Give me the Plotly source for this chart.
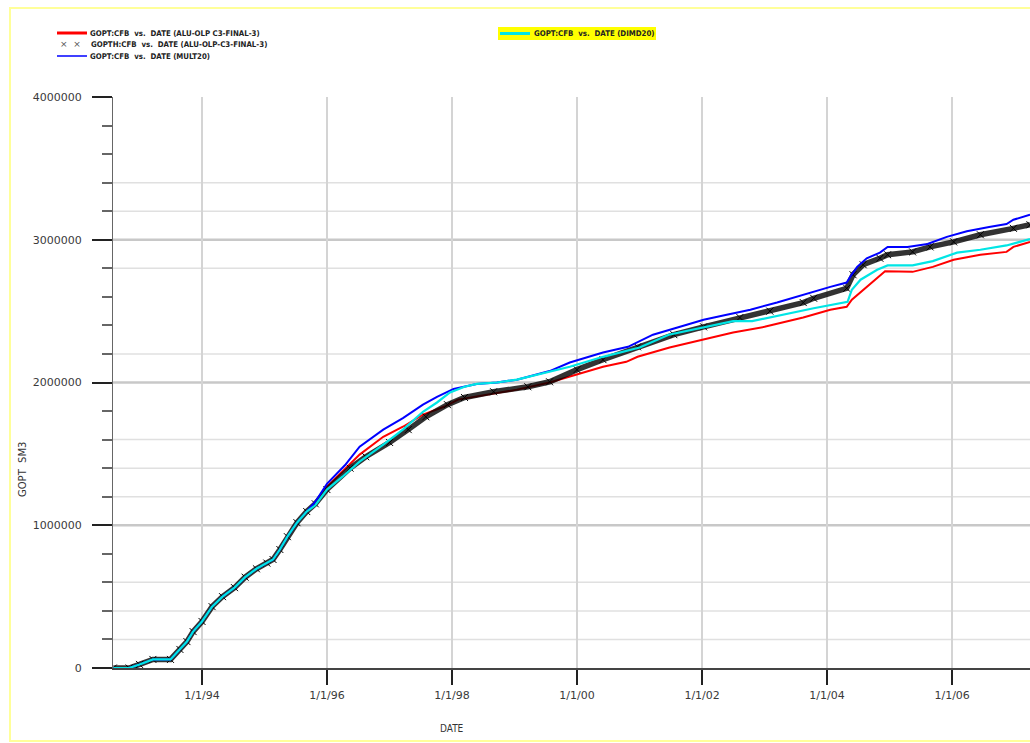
import plotly.graph_objects as go

# ---- cumulative gas production, field CFB (SM3) ----
# start-up period, identical for every case
EARLY_DATES = ["1992-08-01", "1992-11-01", "1993-01-01", "1993-03-20", "1993-07-01",
               "1993-08-25", "1993-10-05", "1993-11-10", "1994-01-01", "1994-03-01",
               "1994-05-01", "1994-07-10", "1994-09-10", "1994-11-15", "1995-01-15",
               "1995-02-20", "1995-04-01", "1995-05-15", "1995-07-10", "1995-09-05"]
EARLY_VALUES = [0, 0, 25000, 60000, 60000,
                130000, 185000, 255000, 326000, 430000,
                500000, 563000, 636000, 695000, 735000,
                760000, 830000, 920000, 1018000, 1096000]

RED_DATES = ["1995-10-25", "1996-01-01", "1996-04-01", "1996-07-10", "1996-11-25",
             "1997-03-20", "1997-07-15", "1997-11-15", "1998-02-05", "1998-07-15",
             "1999-01-15", "1999-07-25", "2000-01-01", "2000-06-01", "2000-10-15",
             "2000-12-20", "2001-06-25", "2002-01-01", "2002-07-01", "2003-01-01",
             "2003-08-15", "2004-01-20", "2004-04-25", "2004-05-25", "2004-07-30",
             "2004-12-05", "2005-05-15", "2005-09-10", "2006-01-10", "2006-06-15",
             "2006-11-15", "2006-12-25", "2007-04-01"]
RED_VALUES = [1158000, 1270000, 1375000, 1495000, 1620000,
              1690000, 1775000, 1830000, 1880000, 1915000,
              1950000, 2000000, 2055000, 2110000, 2145000,
              2180000, 2245000, 2300000, 2350000, 2390000,
              2455000, 2510000, 2530000, 2580000, 2650000,
              2780000, 2775000, 2810000, 2860000, 2895000,
              2915000, 2950000, 2985000]

HIST_DATES = ["1995-10-25", "1996-01-01", "1996-05-15", "1996-08-15", "1997-01-01",
              "1997-04-20", "1997-08-01", "1997-12-05", "1998-03-15", "1998-09-01",
              "1999-03-20", "1999-07-25", "2000-01-01", "2000-06-01", "2000-12-20",
              "2001-07-20", "2002-01-10", "2002-08-10", "2003-02-01", "2003-08-15",
              "2003-10-15", "2004-04-25", "2004-06-01", "2004-07-30", "2004-11-05",
              "2004-12-20", "2005-05-15", "2005-08-25", "2006-01-10", "2006-06-15",
              "2006-12-25", "2007-04-01"]
HIST_VALUES = [1150000, 1250000, 1400000, 1480000, 1580000,
               1670000, 1760000, 1845000, 1895000, 1935000,
               1970000, 2005000, 2090000, 2160000, 2250000,
               2335000, 2390000, 2455000, 2500000, 2560000,
               2590000, 2660000, 2755000, 2825000, 2870000,
               2895000, 2915000, 2950000, 2985000, 3035000,
               3080000, 3105000]

MULT_DATES = ["1995-10-25", "1996-01-01", "1996-04-15", "1996-07-10", "1996-11-25",
              "1997-03-20", "1997-07-15", "1997-10-05", "1998-01-10", "1998-05-25",
              "1998-09-20", "1999-01-15", "1999-07-25", "1999-11-20", "2000-06-01",
              "2000-10-25", "2001-03-20", "2001-08-25", "2002-01-10", "2002-05-25",
              "2002-10-10", "2003-03-15", "2003-08-15", "2004-01-20", "2004-04-25",
              "2004-05-15", "2004-06-25", "2004-08-20", "2004-11-05", "2004-12-20",
              "2005-04-15", "2005-08-10", "2005-12-01", "2006-03-28", "2006-08-05",
              "2006-11-15", "2006-12-25", "2007-04-01"]
MULT_VALUES = [1165000, 1290000, 1420000, 1550000, 1670000,
               1750000, 1845000, 1900000, 1955000, 1990000,
               2000000, 2020000, 2080000, 2140000, 2210000,
               2250000, 2335000, 2390000, 2440000, 2475000,
               2510000, 2560000, 2615000, 2670000, 2700000,
               2740000, 2810000, 2870000, 2910000, 2950000,
               2950000, 2970000, 3020000, 3060000, 3090000,
               3110000, 3140000, 3175000]

DIMD_DATES = ["1995-10-25", "1996-01-01", "1996-04-01", "1996-07-10", "1996-11-25",
              "1997-03-20", "1997-07-15", "1997-10-05", "1997-12-20", "1998-03-15",
              "1998-05-25", "1998-09-20", "1999-01-15", "1999-07-25", "1999-11-20",
              "2000-06-01", "2001-01-01", "2001-06-20", "2002-01-01", "2002-07-01",
              "2002-10-20", "2003-05-01", "2003-10-15", "2004-04-30", "2004-05-25",
              "2004-07-15", "2004-10-20", "2004-12-20", "2005-05-15", "2005-09-10",
              "2006-01-30", "2006-06-15", "2006-11-15", "2007-01-15", "2007-04-01"]
DIMD_VALUES = [1140000, 1250000, 1340000, 1445000, 1565000,
               1670000, 1795000, 1860000, 1930000, 1970000,
               1990000, 2000000, 2020000, 2075000, 2110000,
               2180000, 2245000, 2335000, 2385000, 2430000,
               2430000, 2480000, 2520000, 2565000, 2650000,
               2720000, 2790000, 2820000, 2820000, 2850000,
               2910000, 2930000, 2960000, 2980000, 3005000]

X_TICKS = ["1994-01-01", "1996-01-01", "1998-01-01", "2000-01-01",
           "2002-01-01", "2004-01-01", "2006-01-01"]
X_TICK_TEXT = ["1/1/94", "1/1/96", "1/1/98", "1/1/00", "1/1/02", "1/1/04", "1/1/06"]
Y_TICKS = [0, 1000000, 2000000, 3000000, 4000000]
Y_TICK_TEXT = ["0", "1000000", "2000000", "3000000", "4000000"]
MAJOR_GRID = [1000000, 2000000, 3000000]
MINOR_GRID = [200000, 400000, 600000, 1200000, 1400000, 1600000,
              2200000, 2800000, 3200000, 3400000]

LEGEND_LABELS = ["GOPT:CFB  vs.  DATE (ALU-OLP C3-FINAL-3)",
                 "GOPTH:CFB  vs.  DATE (ALU-OLP-C3-FINAL-3)",
                 "GOPT:CFB  vs.  DATE (MULT20)",
                 "GOPT:CFB  vs.  DATE (DIMD20)"]

# ---- page geometry ----
FIG_W, FIG_H = 1030, 743
M_L, M_R, M_T, M_B = 113, 0, 97, 75
PLOT_W = FIG_W - M_L - M_R
PLOT_H = FIG_H - M_T - M_B


def px(x):
    return (x - M_L) / PLOT_W


def py(y):
    return (FIG_H - M_B - y) / PLOT_H


def nb(s):
    return s.replace(" ", "\u00a0")


TICK_FONT = dict(family="DejaVu Sans, Liberation Sans, sans-serif", size=11, color="#3a3a3a")
LEG_FONT = dict(family="DejaVu Sans Condensed, Liberation Sans Narrow, DejaVu Sans, sans-serif",
                size=7.8, color="#222", weight="bold")

fig = go.Figure()
fig.add_trace(go.Scatter(x=EARLY_DATES + RED_DATES, y=EARLY_VALUES + RED_VALUES,
                         mode="lines", line=dict(color="#ff0000", width=2),
                         name=LEGEND_LABELS[0]))
fig.add_trace(go.Scatter(x=EARLY_DATES + HIST_DATES, y=EARLY_VALUES + HIST_VALUES,
                         mode="lines+markers",
                         line=dict(color="rgba(0,0,0,0.8)", width=5.5),
                         marker=dict(symbol="x-thin", size=7, line=dict(color="#000", width=1)),
                         name=LEGEND_LABELS[1]))
fig.add_trace(go.Scatter(x=EARLY_DATES + MULT_DATES, y=EARLY_VALUES + MULT_VALUES,
                         mode="lines", line=dict(color="#0000ff", width=2),
                         name=LEGEND_LABELS[2]))
fig.add_trace(go.Scatter(x=EARLY_DATES + DIMD_DATES, y=EARLY_VALUES + DIMD_VALUES,
                         mode="lines", line=dict(color="#00e5e5", width=2.2),
                         name=LEGEND_LABELS[3]))

shapes = []
# horizontal grid
for v in MINOR_GRID:
    shapes.append(dict(type="line", xref="paper", yref="y", x0=0, x1=1, y0=v, y1=v,
                       line=dict(color="#e0e0e0", width=1.5), layer="below"))
for v in MAJOR_GRID:
    shapes.append(dict(type="line", xref="paper", yref="y", x0=0, x1=1, y0=v, y1=v,
                       line=dict(color="#c8c8c8", width=2.5), layer="below"))
# page frame
shapes.append(dict(type="rect", xref="paper", yref="paper",
                   x0=px(10), x1=px(1045), y0=py(741), y1=py(8),
                   line=dict(color="#ffff99", width=2)))
# legend samples
shapes.append(dict(type="line", xref="paper", yref="paper", x0=px(57), x1=px(87),
                   y0=py(33), y1=py(33), line=dict(color="#ff0000", width=3)))
shapes.append(dict(type="line", xref="paper", yref="paper", x0=px(57), x1=px(87),
                   y0=py(56), y1=py(56), line=dict(color="#0000ff", width=1.5)))
shapes.append(dict(type="rect", xref="paper", yref="paper", x0=px(498), x1=px(656),
                   y0=py(40), y1=py(27), fillcolor="#ffff00", line=dict(width=0)))
shapes.append(dict(type="line", xref="paper", yref="paper", x0=px(500), x1=px(530),
                   y0=py(33.5), y1=py(33.5), line=dict(color="#00e5e5", width=3)))

annotations = [
    dict(text=nb(LEGEND_LABELS[0]), x=px(88), y=py(33), xanchor="left", yanchor="middle"),
    dict(text=nb(LEGEND_LABELS[1]), x=px(89), y=py(44.5), xanchor="left", yanchor="middle"),
    dict(text=nb(LEGEND_LABELS[2]), x=px(88), y=py(56), xanchor="left", yanchor="middle"),
    dict(text=nb(LEGEND_LABELS[3]), x=px(532), y=py(33.5), xanchor="left", yanchor="middle"),
]
for a in annotations:
    a.update(xref="paper", yref="paper", showarrow=False, font=LEG_FONT)
annotations.append(dict(text="\u00d7\u00a0\u00a0\u00d7", x=px(70.5), y=py(44.5), xref="paper",
                        yref="paper", showarrow=False, xanchor="center", yanchor="middle",
                        font=dict(family="DejaVu Sans", size=9, color="#555")))
annotations.append(dict(text="GOPT\u00a0\u00a0SM3", x=px(22), y=py(470), xref="paper",
                        yref="paper", showarrow=False, textangle=-90,
                        xanchor="center", yanchor="middle",
                        font=dict(family="DejaVu Sans, sans-serif", size=10, color="#333")))
annotations.append(dict(text="DATE", x=px(452), y=py(728), xref="paper", yref="paper",
                        showarrow=False, xanchor="center", yanchor="middle",
                        font=dict(family="DejaVu Sans Condensed, DejaVu Sans, sans-serif",
                                  size=10, color="#333")))

fig.update_layout(
    width=FIG_W, height=FIG_H,
    margin=dict(l=M_L, r=M_R, t=M_T, b=M_B),
    paper_bgcolor="white", plot_bgcolor="white",
    showlegend=False,
    shapes=shapes, annotations=annotations,
    xaxis=dict(type="date", range=["1992-07-30", "2007-04-01"],
               tickmode="array", tickvals=X_TICKS, ticktext=X_TICK_TEXT,
               ticks="outside", ticklen=15, tickwidth=2, tickcolor="#222",
               ticklabelstandoff=1,
               showgrid=True, gridcolor="#d4d4d4", gridwidth=2,
               showline=True, linecolor="#444", linewidth=2,
               zeroline=False, tickfont=TICK_FONT),
    yaxis=dict(range=[0, 4000000],
               tickmode="array", tickvals=Y_TICKS, ticktext=Y_TICK_TEXT,
               ticks="outside", ticklen=20, tickwidth=2, tickcolor="#222",
               ticklabelstandoff=8,
               minor=dict(dtick=200000, tick0=0, ticks="outside", ticklen=10,
                          tickwidth=2, tickcolor="#666", showgrid=False),
               showgrid=False, showline=True, linecolor="#666", linewidth=1,
               zeroline=False, tickfont=TICK_FONT),
)

fig.write_html("out.html")
